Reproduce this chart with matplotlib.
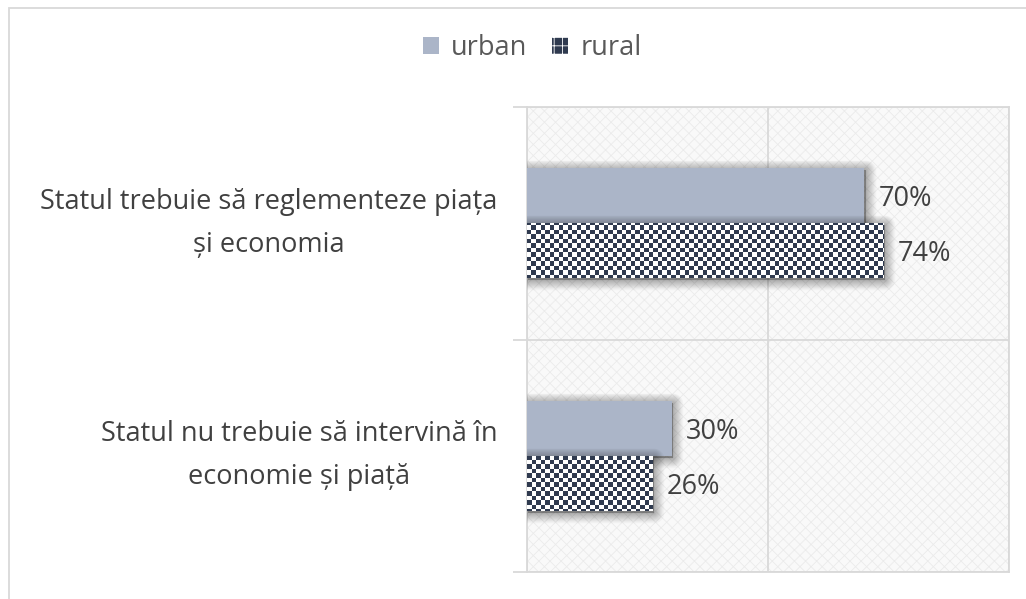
import numpy as np
import matplotlib
matplotlib.use('Agg')
import matplotlib.pyplot as plt
from matplotlib.patches import Patch, Rectangle
from matplotlib.colors import ListedColormap
from matplotlib import patheffects as pe

# data
categories = ['Statul trebuie să reglementeze piața\nși economia',
              'Statul nu trebuie să intervină în\neconomie și piață']
series = ['urban', 'rural']
urban = [70, 30]
rural = [74, 26]

URBAN = '#ABB5C8'
NAVY = '#2F3A4F'
GRID = '#D9D9D9'
TEXT = '#404040'
FS = 19.5

plt.rcParams['font.family'] = ['Open Sans', 'DejaVu Sans']
plt.rcParams['hatch.linewidth'] = 0.6


class SoftShadow(pe.AbstractPathEffect):
    # blurred drop shadow made of stacked strokes
    def __init__(self, offset=(1, -1.5), steps=10, spread=14, alpha=0.03):
        super().__init__(offset)
        self.steps, self.spread, self.alpha = steps, spread, alpha

    def draw_path(self, renderer, gc, tpath, affine, rgbFace):
        for i in range(self.steps):
            gc0 = renderer.new_gc()
            gc0.copy_properties(gc)
            gc0.set_linewidth(self.spread * (self.steps - i) / self.steps)
            gc0.set_foreground('black')
            gc0.set_alpha(self.alpha)
            gc0.set_joinstyle('round')
            renderer.draw_path(gc0, tpath, affine + self._offset_transform(renderer), (0, 0, 0))
            gc0.restore()


fig = plt.figure(figsize=(10.26, 5.99), dpi=100)
ax = fig.add_axes([527 / 1026, 27 / 599, 482 / 1026, 465 / 599])

# textured plot background
ax.add_patch(Rectangle((0, 0), 1, 1, transform=ax.transAxes, facecolor='#F9F9F9',
                       edgecolor='#EBEBEB', hatch='xxx', lw=0, zorder=0))

y = np.arange(len(categories))[::-1]
h = 0.236
shadow = [SoftShadow(), pe.Normal()]
b_urban = ax.barh(y + h / 2, urban, height=h, color=URBAN, path_effects=shadow, zorder=3)
b_rural = ax.barh(y - h / 2, rural, height=h, color='white', path_effects=shadow, zorder=3)

# checkerboard fill for rural bars (about 4.5px cells)
cell = 4.5
nx, ny = 110, 105
checks = np.add.outer(np.arange(ny), np.arange(nx)) % 2
for bar in b_rural:
    im = ax.imshow(checks, cmap=ListedColormap(['white', NAVY]), origin='lower',
                   extent=(0, nx * cell / 482 * 100, -0.5, -0.5 + ny * cell * 2 / 465),
                   interpolation='antialiased', aspect='auto', zorder=4)
    im.set_clip_path(bar)

labels = ax.bar_label(b_urban, labels=[f'{v}%' for v in urban], padding=10, fontsize=FS, color=TEXT)
labels += ax.bar_label(b_rural, labels=[f'{v}%' for v in rural], padding=10, fontsize=FS, color=TEXT)
for t in labels:
    t.set_va('center_baseline')

ax.set_xlim(0, 100)
ax.set_ylim(-0.5, 1.5)
ax.set_xticks([0, 50, 100])
ax.set_xticklabels([])
ax.tick_params(axis='x', length=0)
ax.xaxis.grid(True, color=GRID, lw=1.3)
ax.set_axisbelow(True)

ax.set_yticks(y)
ax.set_yticklabels(categories, fontsize=FS, color=TEXT, ha='right', va='center',
                   multialignment='center', linespacing=1.7)
ax.tick_params(axis='y', which='major', length=0, pad=21)
ax.set_yticks([-0.5, 0.5, 1.5], minor=True)
ax.tick_params(axis='y', which='minor', length=10, color=GRID, width=1.3)
ax.yaxis.grid(True, which='minor', color=GRID, lw=1.3)
for s in ax.spines.values():
    s.set_color(GRID)
    s.set_linewidth(1.3)

handles = [Patch(facecolor=URBAN),
           Patch(facecolor=NAVY, edgecolor='white', hatch='++', lw=0)]
fig.legend(handles, series, loc='center', bbox_to_anchor=(532 / 1026, 1 - 48 / 599), ncol=2,
           frameon=False, fontsize=FS, handlelength=0.6, handleheight=0.6,
           handletextpad=0.45, columnspacing=0.9, labelcolor='#595959')

# chart border
fig.add_artist(Rectangle((8.5 / 1026, -0.1), 1.2, 1.1 - 8.5 / 599, transform=fig.transFigure,
                         fill=False, edgecolor=GRID, lw=1.3))

fig.savefig('out.png', dpi=100)
